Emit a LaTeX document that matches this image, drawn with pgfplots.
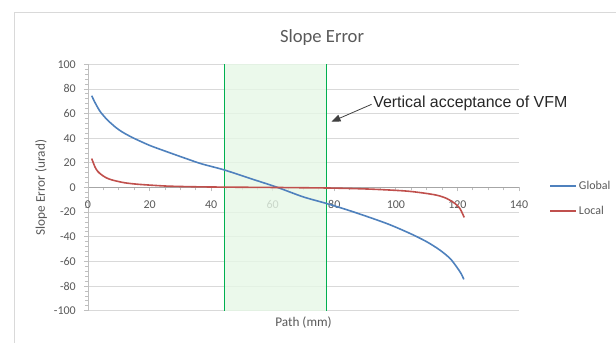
\documentclass[border=0pt]{standalone}
\usepackage{pgfplots}
\pgfplotsset{compat=1.18}
\usepackage{fontspec}
\setmainfont{Carlito}
\newfontfamily\arialfont{Liberation Sans}
\usetikzlibrary{arrows.meta}
\definecolor{txt}{HTML}{595959}
\definecolor{gridc}{HTML}{D9D9D9}
\definecolor{axc}{HTML}{BFBFBF}
\definecolor{zeroc}{HTML}{A6A6A6}
\definecolor{gblue}{HTML}{4F81BD}
\definecolor{lred}{HTML}{C0504D}
\definecolor{vgreen}{HTML}{00B050}
\definecolor{vfill}{HTML}{E6F7E6}
\begin{document}
\begin{tikzpicture}
\path[use as bounding box] (0bp,0bp) rectangle (616bp,343bp);
\draw[gridc, line width=0.8bp] (14bp,-5bp) -- (14bp,331bp) -- (630bp,331bp);
\begin{axis}[
  at={(88bp,32.3bp)}, anchor=south west,
  scale only axis, width=431bp, height=246.4bp,
  xmin=0, xmax=140, ymin=-100, ymax=100,
  axis x line*=middle, axis y line*=left,
  hide obscured x ticks=false, hide obscured y ticks=false,
  xtick={0,20,...,140}, ytick={-100,-80,...,100},
  minor x tick num=3, minor y tick num=4,
  tick align=outside,
  major tick length=4bp, minor tick length=3bp,
  tick style={axc, line width=0.8bp},
  x axis line style={zeroc, line width=0.8bp},
  y axis line style={axc, line width=0.8bp},
  ymajorgrids, grid style={gridc, line width=0.8bp},
  /pgf/number format/assume math mode=true,
  ticklabel style={font=\fontsize{12}{14}\selectfont, text=txt},
  xticklabel style={anchor=base, inner sep=0pt, yshift=-16.5bp},
  yticklabel style={anchor=east, inner sep=0pt, xshift=-8bp},
  xlabel={Path (mm)},
  xlabel style={at={(axis description cs:0.5,-0.063)}, anchor=base, inner sep=0pt, font=\fontsize{13.3}{15}\selectfont, text=txt},
  ylabel={Slope Error (urad)},
  ylabel style={at={(axis description cs:-0.1,0.5)}, anchor=base, inner sep=0pt, font=\fontsize{13.3}{15}\selectfont, text=txt},
  legend style={at={(1.0696,0.4555)}, anchor=west, draw=none, fill=none, inner sep=0pt, row sep=11.3bp,
    font=\fontsize{12}{14}\selectfont, text=txt, cells={anchor=west}},
  clip=false,
]
\fill[vfill, fill opacity=0.8] (axis cs:44.3,-100) rectangle (axis cs:77.4,100);
\draw[vgreen, line width=0.9bp] (axis cs:44.3,-100) -- (axis cs:44.3,100);
\draw[vgreen, line width=0.9bp] (axis cs:77.4,-100) -- (axis cs:77.4,100);

\addplot[gblue, line width=1.6bp, smooth, tension=0.5, forget plot] coordinates {
(1.2,74.5) (2.0,70.3) (2.8,66.5) (3.8,62.2) (5.0,58.4) (6.3,54.8) (7.7,51.6) (9.2,48.4) (10.9,45.4) (13.0,42.4) (15.3,39.5) (17.9,36.5) (20.7,33.5)
(26.1,28.6) (31.5,23.8) (36.9,19.2) (44.2,14.3) (53.1,7.0) (61.3,0.3) (69.9,-7.6)
(77.5,-13.0) (86.1,-19.7) (97.0,-29.2) (104.6,-37.3) (110.0,-44.0) (114.3,-50.8)
(117.6,-57.6) (119.7,-64.3) (121.1,-69.5) (122.1,-74.6)
};
\addplot[lred, line width=1.6bp, smooth, tension=0.5, forget plot] coordinates {
(1.2,23.5) (2.3,16.5) (3.2,13.0) (4.4,10.3) (6.0,7.8) (7.7,6.2) (9.8,4.9) (12.0,3.8) (15.0,2.9) (18.5,2.2) (26.1,1.1)
(36.9,0.5) (50.0,0.2) (61.5,0.0) (70.0,-0.2) (80.0,-0.5) (91.6,-1.3) (102.4,-2.7)
(107.8,-4.1) (113.2,-6.2) (116.5,-8.9) (119.2,-13.0) (120.8,-17.0) (122.2,-24.3)
};
\addlegendimage{legend image code/.code={\draw[gblue, line width=1.8bp] (0bp,0bp) -- (26bp,0bp);}}
\addlegendentry{Global}
\addlegendimage{legend image code/.code={\draw[lred, line width=1.8bp] (0bp,0bp) -- (26bp,0bp);}}
\addlegendentry{Local}

\draw[black!75, line width=0.8bp, -{Triangle[length=9bp,width=7bp]}] (axis cs:92.1,67.5) -- (axis cs:79.1,53.4);
\node[anchor=base west, inner sep=0pt, font=\arialfont\fontsize{16}{18}\selectfont, text=black!85] at (axis cs:92.6,64.8) {Vertical acceptance of VFM};
\node[anchor=base, inner sep=0pt, font=\fontsize{18.7}{22}\selectfont, text=txt] at (axis description cs:0.543,1.09) {Slope Error};
\end{axis}
\end{tikzpicture}
\end{document}
